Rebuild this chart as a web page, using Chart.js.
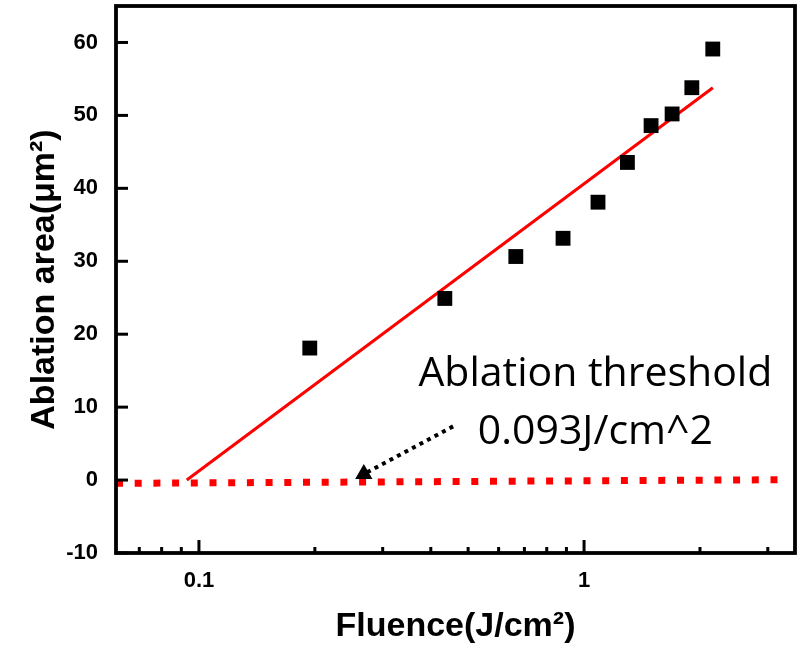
<!DOCTYPE html>
<html>
<head>
<meta charset="utf-8">
<title>Ablation area vs fluence</title>
<script src="https://cdn.jsdelivr.net/npm/chart.js@4.4.1/dist/chart.umd.min.js"></script>
<style>
  html, body { margin: 0; padding: 0; background: #fff; }
  canvas { display: block; }
</style>
</head>
<body>
<canvas id="ablation" width="800" height="650"></canvas>
<script>
// measured points
const fluence = [0.194, 0.435, 0.665, 0.882, 1.087, 1.296, 1.493, 1.693, 1.905, 2.159];
const area = [18.1, 24.9, 30.65, 33.15, 38.1, 43.55, 48.6, 50.2, 53.8, 59.1];

// linear fit in log(x), crosses zero at the threshold
const fitX = [0.093, 2.16];
const fitY = [0, 53.8];

// red dotted zero line
const baseX = [0.0609, 3.4];
const baseY = [-0.45, 0.05];

// dotted arrow pointing at the threshold
const arrowX = [0.457, 0.268];
const arrowY = [7.36, 0.82];

const xTicks = [0.07, 0.08, 0.09, 0.1, 0.2, 0.3, 0.4, 0.5, 0.6, 0.7, 0.8, 0.9, 1, 2, 3];
const xTickLabels = { 0.1: '0.1', 1: '1' };
const yTicks = [-10, 0, 10, 20, 30, 40, 50, 60];

const noteLines = ['Ablation threshold', '0.093J/cm^2'];
const noteX = 1.07;
const noteY = [12.9, 5.0];

const pts = (xs, ys) => xs.map((x, i) => ({ x: x, y: ys[i] }));

const frameAndTicks = {
  id: 'frameAndTicks',
  afterDraw(chart) {
    const ctx = chart.ctx;
    const a = chart.chartArea;
    const xs = chart.scales.x;
    const ys = chart.scales.y;
    ctx.save();
    ctx.strokeStyle = '#000';
    ctx.lineCap = 'butt';
    ctx.lineWidth = 3;
    xs.ticks.forEach(t => {
      const px = xs.getPixelForValue(t.value);
      const len = xTickLabels[t.value] ? 13 : 6;
      ctx.beginPath();
      ctx.moveTo(px, a.bottom);
      ctx.lineTo(px, a.bottom - len);
      ctx.stroke();
    });
    ys.ticks.forEach(t => {
      const py = ys.getPixelForValue(t.value);
      ctx.beginPath();
      ctx.moveTo(a.left, py);
      ctx.lineTo(a.left + 12, py);
      ctx.stroke();
    });
    ctx.lineWidth = 3.8;
    ctx.strokeRect(a.left, a.top, a.right - a.left, a.bottom - a.top);

    ctx.fillStyle = '#000';
    ctx.font = '41px "Open Sans"';
    ctx.textAlign = 'center';
    ctx.textBaseline = 'alphabetic';
    noteLines.forEach((s, i) => {
      ctx.fillText(s, xs.getPixelForValue(noteX), ys.getPixelForValue(noteY[i]));
    });
    ctx.restore();
  }
};

const labelFont = { family: '"Liberation Sans", Arial', size: 22, weight: 'bold' };
const titleFont = { family: '"Liberation Sans", Arial', size: 34, weight: 'bold' };

new Chart(document.getElementById('ablation'), {
  type: 'scatter',
  data: {
    datasets: [
      {
        data: pts(fluence, area),
        pointStyle: 'rect',
        pointRadius: 10.5,
        pointHoverRadius: 10.5,
        backgroundColor: '#000',
        borderColor: '#000',
        borderWidth: 0,
        showLine: false
      },
      {
        data: [pts(arrowX, arrowY)[1]],
        pointStyle: 'triangle',
        pointRadius: 10,
        backgroundColor: '#000',
        borderColor: '#000',
        borderWidth: 0,
        showLine: false
      },
      {
        data: pts(arrowX, arrowY),
        showLine: true,
        borderColor: '#000',
        borderWidth: 4,
        borderDash: [4, 4.5],
        pointRadius: 0
      },
      {
        data: pts(fitX, fitY),
        showLine: true,
        borderColor: '#ff0000',
        borderWidth: 3,
        pointRadius: 0
      },
      {
        data: pts(baseX, baseY),
        showLine: true,
        borderColor: '#ff0000',
        borderWidth: 7,
        borderDash: [7, 11.7],
        pointRadius: 0
      }
    ]
  },
  options: {
    responsive: false,
    animation: false,
    devicePixelRatio: 1,
    layout: { autoPadding: false, padding: { top: 6, right: 5, left: 0, bottom: 0 } },
    plugins: {
      legend: { display: false },
      tooltip: { enabled: false }
    },
    scales: {
      x: {
        type: 'logarithmic',
        min: 0.0609,
        max: 3.53,
        grid: { display: false, drawTicks: false },
        border: { display: false },
        afterBuildTicks: s => { s.ticks = xTicks.map(v => ({ value: v })); },
        afterFit: s => { s.height = 97; s.paddingLeft = 0; s.paddingRight = 0; },
        ticks: {
          autoSkip: false,
          maxRotation: 0,
          padding: 15,
          color: '#000',
          font: labelFont,
          callback: v => xTickLabels[v] || ''
        },
        title: {
          display: true,
          text: 'Fluence(J/cm²)',
          color: '#000',
          padding: { top: 0, bottom: 3 },
          font: titleFont
        }
      },
      y: {
        min: -10,
        max: 65,
        grid: { display: false, drawTicks: false },
        border: { display: false },
        afterBuildTicks: s => { s.ticks = yTicks.map(v => ({ value: v })); },
        afterFit: s => { s.width = 116; s.paddingTop = 0; s.paddingBottom = 0; },
        ticks: {
          padding: 18,
          color: '#000',
          font: labelFont
        },
        title: {
          display: true,
          text: 'Ablation area(μm²)',
          color: '#000',
          padding: { top: 24, bottom: 0 },
          font: titleFont
        }
      }
    }
  },
  plugins: [frameAndTicks]
});
</script>
</body>
</html>
